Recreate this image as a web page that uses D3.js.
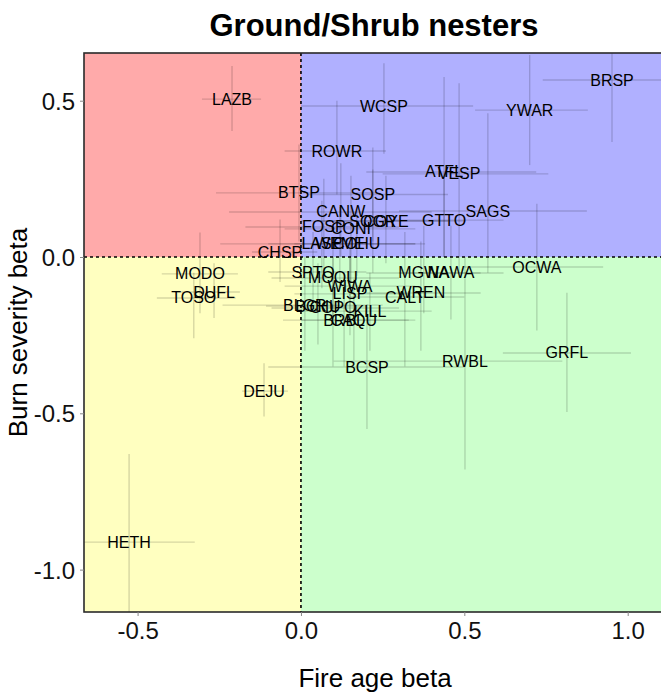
<!DOCTYPE html>
<html>
<head>
<meta charset="utf-8">
<script src="https://cdnjs.cloudflare.com/ajax/libs/d3/7.8.5/d3.min.js"></script>
<style>
  body { margin: 0; background: #fff; }
  text { font-family: "Liberation Sans", Arial, Helvetica, sans-serif; }
</style>
</head>
<body>
<div id="chart"></div>
<script>
// species codes and estimates (fire age beta on x, burn severity beta on y) with their intervals
const species = ['BRSP', 'YWAR', 'WCSP', 'LAZB', 'ROWR', 'ATFL', 'VESP', 'BTSP', 'SOSP', 'SAGS',
  'CANW', 'SOGR', 'COYE', 'GTTO', 'FOSP', 'CONI', 'LASP', 'WEME', 'COHU', 'CHSP',
  'SPTO', 'MOQU', 'WIWA', 'LISP', 'MGWA', 'NAWA', 'OCWA', 'WREN', 'CALT', 'BLGR',
  'BCHU', 'COPO', 'KILL', 'BRBL', 'CAQU', 'BCSP', 'RWBL', 'GRFL', 'DEJU', 'HETH',
  'MODO', 'DUFL', 'TOSO'];
const fireAge = [0.952, 0.700, 0.254, -0.211, 0.110, 0.438, 0.484, -0.006, 0.220, 0.572,
  0.122, 0.220, 0.260, 0.438, 0.070, 0.153, 0.064, 0.119, 0.171, -0.064,
  0.037, 0.098, 0.150, 0.150, 0.376, 0.459, 0.722, 0.367, 0.318, 0.012,
  0.052, 0.098, 0.211, 0.132, 0.162, 0.202, 0.502, 0.814, -0.113, -0.526,
  -0.309, -0.266, -0.328];
const fireLo = [0.740, 0.533, 0.000, -0.303, -0.050, 0.200, 0.250, -0.260, 0.020, 0.300,
  -0.220, 0.000, 0.050, 0.250, -0.170, -0.050, -0.247, -0.100, -0.020, -0.150,
  -0.100, -0.090, -0.050, -0.020, 0.200, 0.300, 0.500, 0.200, 0.150, -0.240,
  -0.107, -0.090, 0.000, -0.055, 0.000, -0.100, 0.100, 0.618, -0.180, -0.750,
  -0.426, -0.386, -0.441];
const fireHi = [1.250, 0.878, 0.527, -0.122, 0.260, 0.720, 0.757, 0.240, 0.450, 0.875,
  0.400, 0.450, 0.500, 0.620, 0.300, 0.350, 0.350, 0.350, 0.380, 0.050,
  0.200, 0.300, 0.350, 0.330, 0.550, 0.620, 0.925, 0.550, 0.500, 0.250,
  0.200, 0.300, 0.400, 0.350, 0.330, 0.500, 0.800, 1.010, -0.040, -0.325,
  -0.193, -0.187, -0.200];
const burnSev = [0.566, 0.470, 0.483, 0.505, 0.339, 0.272, 0.266, 0.205, 0.200, 0.147,
  0.144, 0.115, 0.115, 0.118, 0.096, 0.090, 0.042, 0.042, 0.042, 0.016,
  -0.048, -0.067, -0.093, -0.118, -0.051, -0.051, -0.032, -0.115, -0.128, -0.154,
  -0.157, -0.163, -0.173, -0.202, -0.202, -0.352, -0.333, -0.307, -0.429, -0.912,
  -0.054, -0.112, -0.131];
const burnLo = [0.368, 0.294, 0.330, 0.403, 0.200, 0.000, -0.050, 0.050, 0.050, -0.050,
  0.000, -0.050, -0.020, 0.000, -0.050, -0.080, -0.100, -0.080, -0.060, -0.080,
  -0.150, -0.200, -0.220, -0.250, -0.180, -0.200, -0.235, -0.300, -0.350, -0.300,
  -0.280, -0.350, -0.300, -0.350, -0.330, -0.550, -0.680, -0.496, -0.510, -1.200,
  -0.180, -0.195, -0.260];
const burnHi = [0.750, 0.646, 0.620, 0.611, 0.500, 0.576, 0.556, 0.360, 0.350, 0.460,
  0.300, 0.280, 0.260, 0.250, 0.250, 0.260, 0.180, 0.160, 0.150, 0.120,
  0.080, 0.060, 0.050, 0.000, 0.100, 0.100, 0.170, 0.050, 0.080, 0.000,
  -0.020, 0.000, -0.050, -0.050, -0.070, -0.150, 0.000, -0.114, -0.340, -0.630,
  0.078, -0.020, -0.050];
const xTicks = [-0.5, 0.0, 0.5, 1.0];
const yTicks = [-1.0, -0.5, 0.0, 0.5];
const quadColors = ['#ffaaaa', '#b0b0ff', '#ffffc0', '#ccffcc'];

const width = 661;
const height = 696;
const padL = 84, padR = 662, padT = 53, padB = 612;

const x = d3.scaleLinear().domain([-0.664, 1.105]).range([padL, padR]);
const y = d3.scaleLinear().domain([-1.1356, 0.6526]).range([padB, padT]);

const svg = d3.select('#chart').append('svg')
  .attr('width', width).attr('height', height);

svg.append('defs').append('clipPath').attr('id', 'plotclip')
  .append('rect').attr('x', padL).attr('y', padT)
  .attr('width', padR - padL).attr('height', padB - padT);

const plot = svg.append('g').attr('clip-path', 'url(#plotclip)');

// four quadrants
const quads = [
  [x.domain()[0], 0, 0, y.domain()[1]],
  [0, x.domain()[1], 0, y.domain()[1]],
  [x.domain()[0], 0, y.domain()[0], 0],
  [0, x.domain()[1], y.domain()[0], 0]
];
plot.selectAll('.quad')
  .data(quads)
  .join('rect')
  .attr('class', 'quad')
  .attr('x', d => x(d[0]))
  .attr('y', d => y(d[3]))
  .attr('width', d => x(d[1]) - x(d[0]))
  .attr('height', d => y(d[2]) - y(d[3]))
  .attr('fill', (d, i) => quadColors[i]);

const rows = species.map((s, i) => ({
  name: s, fx: fireAge[i], fl: fireLo[i], fh: fireHi[i],
  by: burnSev[i], bl: burnLo[i], bh: burnHi[i]
}));

// error bars
const bars = plot.append('g')
  .attr('stroke', 'rgba(0,0,0,0.16)')
  .attr('stroke-width', 1.4);
bars.selectAll('.hbar')
  .data(rows)
  .join('line')
  .attr('class', 'hbar')
  .attr('x1', d => x(d.fl)).attr('x2', d => x(d.fh))
  .attr('y1', d => y(d.by)).attr('y2', d => y(d.by));
bars.selectAll('.vbar')
  .data(rows)
  .join('line')
  .attr('class', 'vbar')
  .attr('x1', d => x(d.fx)).attr('x2', d => x(d.fx))
  .attr('y1', d => y(d.bl)).attr('y2', d => y(d.bh));

// zero lines
plot.append('line')
  .attr('x1', x(0)).attr('x2', x(0)).attr('y1', padT).attr('y2', padB)
  .attr('stroke', '#000').attr('stroke-width', 1.6).attr('stroke-dasharray', '3 3');
plot.append('line')
  .attr('x1', padL).attr('x2', padR).attr('y1', y(0)).attr('y2', y(0))
  .attr('stroke', '#000').attr('stroke-width', 1.6).attr('stroke-dasharray', '3 3');

// species labels
plot.append('g')
  .selectAll('text')
  .data(rows)
  .join('text')
  .attr('x', d => x(d.fx))
  .attr('y', d => y(d.by))
  .attr('text-anchor', 'middle')
  .attr('dominant-baseline', 'central')
  .attr('font-size', '16px')
  .attr('fill', '#000')
  .text(d => d.name);

// panel border (right side runs off the page)
svg.append('rect')
  .attr('x', padL).attr('y', padT)
  .attr('width', padR - padL + 10).attr('height', padB - padT)
  .attr('fill', 'none').attr('stroke', '#2a2a2a').attr('stroke-width', 1.6);

// axes, plain hyphen for negatives as in the original
const fmt = d => d.toFixed(1);
const xAxis = svg.append('g')
  .attr('transform', `translate(0,${padB})`)
  .call(d3.axisBottom(x).tickValues(xTicks).tickFormat(fmt).tickSizeOuter(0).tickSize(4).tickPadding(6));
const yAxis = svg.append('g')
  .attr('transform', `translate(${padL},0)`)
  .call(d3.axisLeft(y).tickValues(yTicks).tickFormat(fmt).tickSizeOuter(0).tickSize(4).tickPadding(5));
[xAxis, yAxis].forEach(a => {
  a.select('.domain').remove();
  a.selectAll('.tick line').attr('stroke', '#888');
  a.selectAll('.tick text')
    .attr('font-size', '24px')
    .attr('fill', '#111')
    .style('font-family', '"Liberation Sans", Arial, sans-serif');
});
yAxis.selectAll('.tick text').attr('dy', '0.36em');

svg.append('text')
  .attr('x', 374).attr('y', 36)
  .attr('text-anchor', 'middle')
  .attr('font-size', '31px')
  .attr('font-weight', 'bold')
  .text('Ground/Shrub nesters');

svg.append('text')
  .attr('x', 375).attr('y', 687)
  .attr('text-anchor', 'middle')
  .attr('font-size', '26px')
  .text('Fire age beta');

svg.append('text')
  .attr('transform', `translate(27,${(padT + padB) / 2}) rotate(-90)`)
  .attr('text-anchor', 'middle')
  .attr('font-size', '26px')
  .text('Burn severity beta');
</script>
</body>
</html>
